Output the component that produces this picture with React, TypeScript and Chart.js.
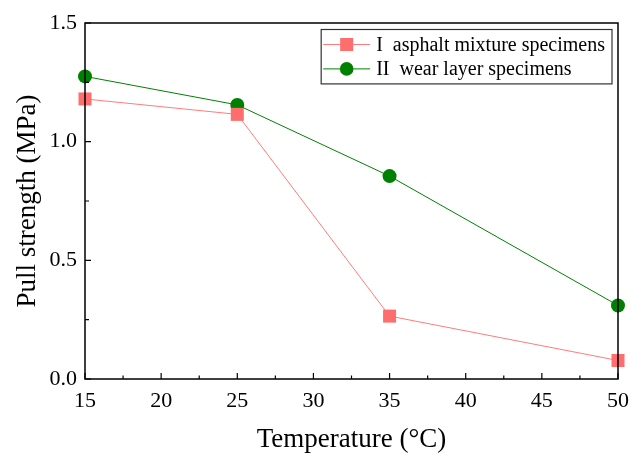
import React, { useEffect, useRef } from "react";
import { Chart, registerables } from "chart.js";

Chart.register(...registerables);

// Test temperatures (°C) and measured pull strength (MPa)
const temperatures = [15, 25, 35, 50];
const asphaltMixture = [1.18, 1.115, 0.265, 0.078];
const wearLayer = [1.275, 1.155, 0.855, 0.31];

const seriesLabels = ["I  asphalt mixture specimens", "II  wear layer specimens"];

// Axis tick positions
const xTicks = [15, 20, 25, 30, 35, 40, 45, 50];
const xMinorTicks = [17.5, 22.5, 27.5, 32.5, 37.5, 42.5, 47.5];
const yTicks = [0, 0.5, 1.0, 1.5];
const yMinorTicks = [0.25, 0.75, 1.25];

const SERIF = "Liberation Serif";
const RED_LINE = "#FF7C7C";
const RED_MARK = "#FF6E6E";
const GREEN = "#008000";

Chart.defaults.font.family = SERIF;

// Box frame with inward major/minor ticks, drawn on top of the data
const framePlugin = {
  id: "frameTicks",
  afterDatasetsDraw(chart: any) {
    const { ctx, chartArea: a, scales } = chart;
    ctx.save();
    ctx.strokeStyle = "#000";
    ctx.lineWidth = 1.2;
    ctx.beginPath();
    for (const v of xTicks) {
      const x = scales.x.getPixelForValue(v);
      ctx.moveTo(x, a.bottom);
      ctx.lineTo(x, a.bottom - 6);
    }
    for (const v of xMinorTicks) {
      const x = scales.x.getPixelForValue(v);
      ctx.moveTo(x, a.bottom);
      ctx.lineTo(x, a.bottom - 3.5);
    }
    for (const v of yTicks) {
      const y = scales.y.getPixelForValue(v);
      ctx.moveTo(a.left, y);
      ctx.lineTo(a.left + 6, y);
    }
    for (const v of yMinorTicks) {
      const y = scales.y.getPixelForValue(v);
      ctx.moveTo(a.left, y);
      ctx.lineTo(a.left + 4, y);
    }
    ctx.stroke();
    ctx.lineWidth = 1.5;
    ctx.strokeRect(a.left, a.top, a.right - a.left, a.bottom - a.top);
    ctx.restore();
  },
};

// Boxed legend with a line-through-marker sample per series
const boxLegendPlugin = {
  id: "boxLegend",
  afterDraw(chart: any) {
    const { ctx, chartArea: a } = chart;
    const datasets = chart.data.datasets;
    ctx.save();
    ctx.font = `20px ${SERIF}`;
    const textW = Math.max(...datasets.map((d: any) => ctx.measureText(d.label).width));
    const rowH = 24.4;
    const boxW = 55 + textW + 7;
    const boxH = 30 + rowH * (datasets.length - 1);
    const right = a.right - 6;
    const left = right - boxW;
    const top = a.top + 6.5;
    ctx.strokeStyle = "#333";
    ctx.lineWidth = 1.2;
    ctx.strokeRect(left, top, boxW, boxH);
    datasets.forEach((d: any, i: number) => {
      const cy = top + 15 + i * rowH;
      ctx.strokeStyle = d.borderColor;
      ctx.lineWidth = 1;
      ctx.beginPath();
      ctx.moveTo(left + 2, cy);
      ctx.lineTo(left + 49, cy);
      ctx.stroke();
      ctx.fillStyle = d.pointBackgroundColor;
      const mx = left + 25.5;
      if (d.pointStyle === "rect") {
        ctx.fillRect(mx - 6.5, cy - 6.5, 13, 13);
      } else {
        ctx.beginPath();
        ctx.arc(mx, cy, 6.8, 0, Math.PI * 2);
        ctx.fill();
      }
      ctx.fillStyle = "#000";
      ctx.textBaseline = "middle";
      ctx.textAlign = "left";
      ctx.fillText(d.label, left + 55, cy + 1);
    });
    ctx.restore();
  },
};

export default function App() {
  const canvasRef = useRef<HTMLCanvasElement | null>(null);

  useEffect(() => {
    if (!canvasRef.current) return;
    const chart = new Chart(canvasRef.current, {
      type: "line",
      data: {
        datasets: [
          {
            label: seriesLabels[0],
            data: temperatures.map((t, i) => ({ x: t, y: asphaltMixture[i] })),
            borderColor: RED_LINE,
            borderWidth: 1,
            pointStyle: "rect",
            pointRadius: 9.2,
            pointBackgroundColor: RED_MARK,
            pointBorderWidth: 0,
            clip: false,
          },
          {
            label: seriesLabels[1],
            data: temperatures.map((t, i) => ({ x: t, y: wearLayer[i] })),
            borderColor: GREEN,
            borderWidth: 1,
            pointStyle: "circle",
            pointRadius: 7,
            pointBackgroundColor: GREEN,
            pointBorderWidth: 0,
            clip: false,
          },
        ],
      },
      options: {
        animation: false,
        responsive: true,
        maintainAspectRatio: false,
        layout: { padding: { top: 23, right: 13, left: 0, bottom: 0 } },
        plugins: { legend: { display: false }, tooltip: { enabled: false } },
        scales: {
          x: {
            type: "linear",
            min: 15,
            max: 50,
            grid: { display: false, drawTicks: false },
            border: { display: false },
            afterBuildTicks: (scale: any) => {
              scale.ticks = xTicks.map((v) => ({ value: v }));
            },
            afterFit: (scale: any) => {
              scale.height = 80;
              scale.paddingLeft = 0;
              scale.paddingRight = 0;
            },
            ticks: {
              autoSkip: false,
              maxRotation: 0,
              padding: 9,
              color: "#000",
              font: { family: SERIF, size: 22 },
              callback: (v: any) => String(v),
            },
            title: {
              display: true,
              text: "Temperature (°C)",
              color: "#000",
              font: { family: SERIF, size: 27 },
              padding: { top: 0, bottom: 2.5 },
            },
          },
          y: {
            type: "linear",
            min: 0,
            max: 1.5,
            grid: { display: false, drawTicks: false },
            border: { display: false },
            afterBuildTicks: (scale: any) => {
              scale.ticks = yTicks.map((v) => ({ value: v }));
            },
            afterFit: (scale: any) => {
              scale.width = 85;
              scale.paddingTop = 0;
              scale.paddingBottom = 0;
            },
            ticks: {
              padding: 8,
              color: "#000",
              font: { family: SERIF, size: 22 },
              callback: (v: any) => Number(v).toFixed(1),
            },
            title: {
              display: true,
              text: "Pull strength (MPa)",
              color: "#000",
              font: { family: SERIF, size: 27 },
              padding: { top: 12, bottom: 0 },
            },
          },
        },
      },
      plugins: [framePlugin, boxLegendPlugin],
    });
    return () => chart.destroy();
  }, []);

  return (
    <div style={{ position: "fixed", left: 0, top: 0, width: 631, height: 459, background: "#fff" }}>
      <canvas ref={canvasRef} />
    </div>
  );
}
